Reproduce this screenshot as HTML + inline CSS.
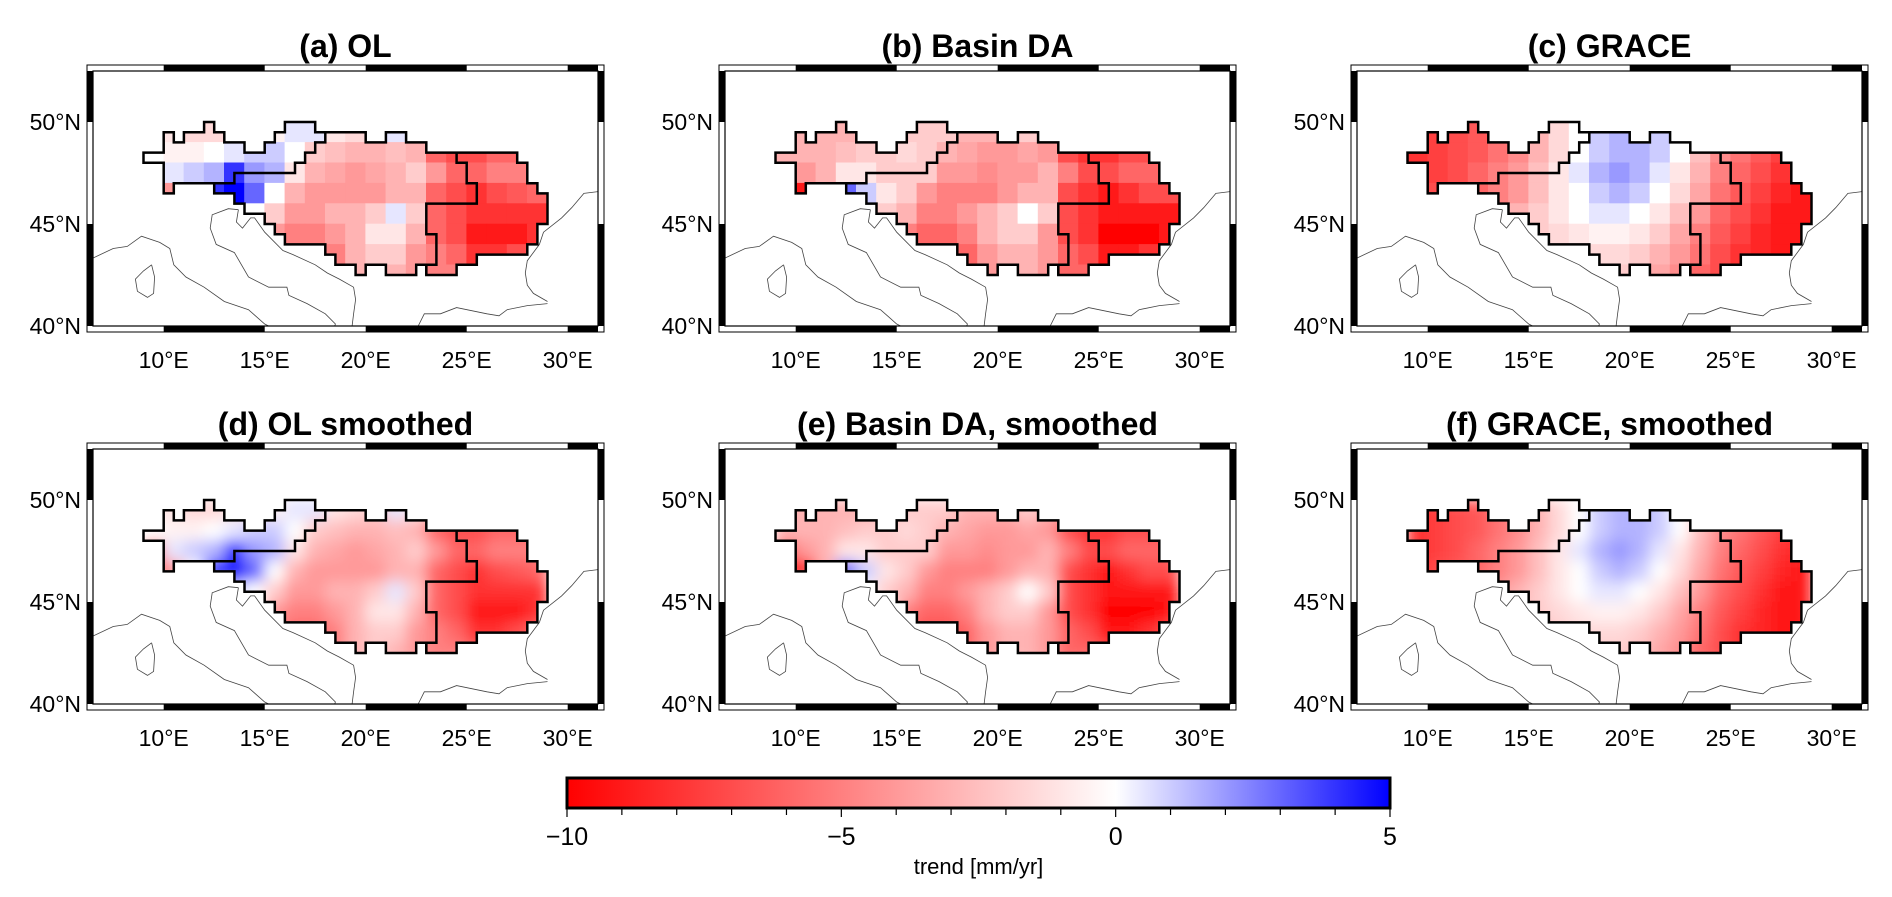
<!DOCTYPE html>
<html><head><meta charset="utf-8"><style>
body{margin:0;background:#fff}
svg{display:block;font-family:"Liberation Sans",Arial,sans-serif}
</style></head><body>
<svg id="fig" width="1892" height="897" viewBox="0 0 1892 897" xmlns="http://www.w3.org/2000/svg">
<defs>
<filter id="blur" x="-10%" y="-10%" width="120%" height="120%"><feGaussianBlur stdDeviation="7"/></filter>
<linearGradient id="cbgrad" x1="0" x2="1" y1="0" y2="0">
<stop offset="0" stop-color="#ff0000"/><stop offset="0.6667" stop-color="#ffffff"/><stop offset="1" stop-color="#0000ff"/>
</linearGradient>
</defs>
</svg>
<script>
// ----- data -----
const panelTitles = ["(a) OL","(b) Basin DA","(c) GRACE","(d) OL smoothed","(e) Basin DA, smoothed","(f) GRACE, smoothed"];
const gridLatTops = [50,49,48,47,46,45,44,43];
const gridLonLefts = [9,10,11,12,13,14,15,16,17,18,19,20,21,22,23,24,25,26,27,28];
const olGrid = [
[-1,-1,-1.5,-1.5,-1,-1,-0.5,0.5,0.5,-1,-1.5,-2,0.5,-1,-3,-4,-4,-5,-5,-5],
[0,-0.5,-0.5,0,0.5,1,1,0,-2,-2.5,-3,-3,-2.5,-3,-6,-7,-7,-6,-6,-6],
[-5,0.5,1,1.5,4,2,1.5,-1,-3,-3.5,-4,-3.5,-3,-2,-4,-6,-6,-5,-5,-5],
[-6,-4,0,4,5,3,0,-3,-4,-4,-4,-4,-3,-3,-6,-7,-8,-7,-6.5,-6],
[0,0,0,0,1,0,-2,-4,-4,-3,-3,-2,0.5,-2,-6,-7,-8,-8,-8,-8],
[0,0,0,0,0,0,-4,-5,-5,-4,-3,-1,-1,-3,-6,-7,-9,-9,-9,-8],
[0,0,0,0,0,0,-5,-6,-6,-5,-3,-2,-2,-4,-5,-6,-8,-8,-7,-6],
[0,0,0,0,0,0,-5,-6,-5,-5,-3,-2,-3,-4,-5,-5,-6,-6,-6,-6]
];
const daGrid = [
[-3,-3,-3,-3,-3,-2.5,-2,-2,-2,-3,-3,-3,-2,-3,-4,-5,-5,-6,-6,-6],
[-3,-3,-3,-2.5,-2,-2,-1.5,-2,-3,-3.5,-4,-4,-3.5,-4,-7,-8,-8,-7,-7,-7],
[-6,-4,-3,-1,-1,-2,-2,-2,-4,-4,-4.5,-4,-4,-3,-5,-7,-7,-6,-6,-6],
[-9,-9,-3,3,1,-1,-2,-4,-5,-5,-5,-4,-3,-3,-7,-8,-9,-8,-7,-7],
[0,0,0,0,0,-2,-3,-5,-5,-4,-3,-2,0,-2,-7,-8,-9,-9,-9,-9],
[0,0,0,0,0,0,-5,-6,-6,-5,-3,-2,-2,-4,-7,-8,-10,-10,-10,-9],
[0,0,0,0,0,0,-6,-7,-7,-6,-4,-3,-3,-4,-6,-7,-9,-9,-8,-7],
[0,0,0,0,0,0,-6,-7,-6,-6,-4,-3,-3,-4,-6,-6,-7,-7,-7,-7]
];
const graceGrid = [
[-8,-7.5,-7,-6.5,-5.5,-4.5,-3,-1.5,0,1,1.5,1.5,1,0,-2,-4,-5,-6,-7,-7.5],
[-8,-7.5,-7,-6.5,-5.5,-4.5,-3,-1.5,0,1,1.5,1.5,1,0,-2.5,-4.5,-5.5,-6.5,-7.5,-8],
[-8,-7.5,-7,-6,-5,-4,-2.5,-1,0.5,1.5,2,1.5,0.5,-1,-3,-5,-6,-7,-8,-8.5],
[-8,-7,-6.5,-6,-5,-4,-2.5,-1,0,1,1.5,1,0,-1.5,-3.5,-5.5,-6.5,-7.5,-8.5,-9],
[-7,-6,-5,-4.5,-4,-3,-2,-1,0,0.5,0.5,0,-1,-2.5,-4,-6,-7,-8,-9,-9],
[-6,-5,-4,-3.5,-3,-2.5,-2,-1.5,-1,-0.5,-0.5,-1,-2,-3.5,-5,-6.5,-7.5,-8.5,-9,-9],
[-5,-4,-3.5,-3,-3,-2.5,-2.5,-2,-1.5,-1.5,-1.5,-2,-3,-4,-5.5,-7,-8,-8.5,-9,-9],
[-5,-4,-3.5,-3,-3,-2.5,-2.5,-2,-2,-2,-2,-2.5,-3.5,-4.5,-6,-7,-8,-8.5,-9,-9]
];
const xTickLons = [10,15,20,25,30];
const xTickLabels = ["10°E","15°E","20°E","25°E","30°E"];
const yTickLats = [50,45,40];
const yTickLabels = ["50°N","45°N","40°N"];
const cbTicks = [-10,-9,-8,-7,-6,-5,-4,-3,-2,-1,0,1,2,3,4,5];
const cbLabelVals = [-10,-5,0,5];
const cbLabels = ["\u221210","\u22125","0","5"];
const basinOutline = [[9,48],[9,48.5],[10,48.5],[10,49.5],[10.5,49.5],[10.5,49],[11,49],[11,49.5],[12,49.5],[12,50],[12.5,50],[12.5,49.5],[13,49.5],[13,49],[14,49],[14,48.5],[15,48.5],[15,49],[15.5,49],[15.5,49.5],[16,49.5],[16,50],[17.5,50],[17.5,49.5],[20,49.5],[20,49],[21,49],[21,49.5],[22,49.5],[22,49],[23,49],[23,48.5],[27.5,48.5],[27.5,48],[28,48],[28,47],[28.5,47],[28.5,46.5],[29,46.5],[29,45],[28.5,45],[28.5,44],[28,44],[28,43.5],[25.5,43.5],[25.5,43],[24.5,43],[24.5,42.5],[23,42.5],[23,43],[22.5,43],[22.5,42.5],[21,42.5],[21,43],[20,43],[20,42.5],[19.5,42.5],[19.5,43],[18.5,43],[18.5,43.5],[18,43.5],[18,44],[16,44],[16,44.5],[15.5,44.5],[15.5,45],[15,45],[15,45.5],[14,45.5],[14,46],[13.5,46],[13.5,46.5],[12.5,46.5],[12.5,47],[10.5,47],[10.5,46.5],[10,46.5],[10,48]];
const dividerWest = [[12.5,47],[13.5,47],[13.5,47.5],[16.5,47.5],[16.5,48],[17,48],[17,48.5],[17.5,48.5],[17.5,49],[18,49],[18,49.5]];
const dividerEast = [[24.5,48.5],[24.5,48],[25,48],[25,47],[25.5,47],[25.5,46],[23,46],[23,44.5],[23.5,44.5],[23.5,43],[23,43],[23,42.5]];
const coasts = [
[[13.7,45.7],[13.2,45.75],[12.4,45.45],[12.3,44.8],[12.6,44.0],[13.5,43.6],[14.2,42.4],[15.2,41.9],[16.1,41.9],[16.2,41.5],[17.1,41.1],[18.0,40.6],[18.5,40.1],[18.4,39.8]],
[[6.0,43.1],[7.5,43.8],[8.2,43.9],[8.9,44.4],[9.8,44.1],[10.3,43.8],[10.5,43.0],[11.1,42.4],[12.0,41.9],[13.0,41.2],[14.2,40.8],[15.0,40.1],[15.6,39.8]],
[[9.4,43.0],[9.55,42.4],[9.5,41.6],[9.2,41.4],[8.7,41.7],[8.6,42.3],[9.0,42.7],[9.4,43.0]],
[[13.7,45.7],[13.6,45.1],[13.9,44.8],[14.3,45.3],[14.5,45.3],[15.0,44.6],[15.9,43.7],[16.4,43.5],[17.5,43.0],[18.1,42.6],[18.7,42.3],[19.4,41.9],[19.5,41.3],[19.4,40.6],[19.3,39.8]],
[[31.6,46.6],[30.8,46.5],[30.2,45.8],[29.7,45.3],[28.8,44.6],[28.6,44.0],[28.0,43.2],[27.9,42.6],[28.0,42.0],[28.3,41.6],[29.0,41.2]],
[[29.0,41.1],[28.0,41.0],[27.0,40.8],[26.6,40.5],[26.0,40.6],[24.5,40.9],[23.7,40.6],[22.9,40.6],[22.6,40.0]]
];
// ----- layout -----
const SX = 20.2, SY = 20.4, LON0 = 6.5, LON1 = 31.5, LAT0 = 40, LAT1 = 52.5;
const W = (LON1-LON0)*SX, H = (LAT1-LAT0)*SY;
const NS = "http://www.w3.org/2000/svg";
const svg = document.getElementById('fig');
function el(tag, attrs, parent){const e=document.createElementNS(NS,tag);for(const k in attrs)e.setAttribute(k,attrs[k]);(parent||svg).appendChild(e);return e;}
const px = lon => (lon-LON0)*SX;
const py = lat => (LAT1-lat)*SY;
function col(v){
  v=Math.max(-10,Math.min(5,v));
  let r,g,b;
  if(v<0){const t=-v/10;r=255;g=b=Math.round(255*(1-t));}
  else{const t=v/5;r=g=Math.round(255*(1-t));b=255;}
  return `rgb(${r},${g},${b})`;
}
const ptsStr = arr => arr.map(p=>px(p[0]).toFixed(1)+','+py(p[1]).toFixed(1)).join(' ');
const defs = svg.querySelector('defs');
const cpB = el('clipPath',{id:'basinclip'},defs);
el('polygon',{points:ptsStr(basinOutline)},cpB);
const cpF = el('clipPath',{id:'frameclip'},defs);
el('rect',{x:0,y:0,width:W,height:H},cpF);

const grids = [olGrid,daGrid,graceGrid,olGrid,daGrid,graceGrid];
const panelNames = ['panel-a-ol','panel-b-basin-da','panel-c-grace','panel-d-ol-smoothed','panel-e-basin-da-smoothed','panel-f-grace-smoothed'];
for(let i=0;i<6;i++){
  const c=i%3, r=Math.floor(i/3);
  const X0=93+632*c, Y0=71+378*r;
  const g=el('g',{transform:`translate(${X0},${Y0})`});
  
  
  const t=el('text',{x:W/2,y:-14,'text-anchor':'middle','font-size':32,'font-weight':'bold'},g);
  t.textContent=panelTitles[i];
  
  
  const B=6;
  el('rect',{x:-B,y:-B,width:W+2*B,height:H+2*B,fill:'#fff',stroke:'#000','stroke-width':1},g);
  const cg=el('g',{'clip-path':'url(#frameclip)',fill:'none',stroke:'#444','stroke-width':0.8},g);
  
  
  coasts.forEach(cl=>el('polyline',{points:ptsStr(cl)},cg));
  const clipG=el('g',{'clip-path':'url(#basinclip)'},g);
  const cells=el('g',r===1?{filter:'url(#blur)'}:{},clipG);
  
  
  const grid=grids[i];
  gridLatTops.forEach((lat,ri)=>gridLonLefts.forEach((lon,ci)=>{
    const rc=el('rect',{x:px(lon)-0.3,y:py(lat)-0.3,width:SX+0.6,height:SY+0.6,fill:col(grid[ri][ci])},cells);
    
    
  }));
  const bo=el('polygon',{points:ptsStr(basinOutline),fill:'none',stroke:'#000','stroke-width':2.5,'stroke-linejoin':'miter'},g);
  
  
  [dividerWest,dividerEast].forEach(d=>{
    const pl=el('polyline',{points:ptsStr(d),fill:'none',stroke:'#000','stroke-width':2.5},g);
    
    
  });
  const fr=el('g',{},g);
  
  
  const lonB=[6.5,10,15,20,25,30,31.5];
  for(let k=0;k<lonB.length-1;k++){ if(k%2===1){
    el('rect',{x:px(lonB[k]),y:-B,width:px(lonB[k+1])-px(lonB[k]),height:B,fill:'#000'},fr);
    el('rect',{x:px(lonB[k]),y:H,width:px(lonB[k+1])-px(lonB[k]),height:B,fill:'#000'},fr);
  }}
  const latB=[52.5,50,45,40];
  for(let k=0;k<latB.length-1;k++){ if(k%2===0){
    el('rect',{x:-B,y:py(latB[k]),width:B,height:py(latB[k+1])-py(latB[k]),fill:'#000'},fr);
    el('rect',{x:W,y:py(latB[k]),width:B,height:py(latB[k+1])-py(latB[k]),fill:'#000'},fr);
  }}
  el('rect',{x:0,y:0,width:W,height:H,fill:'none',stroke:'#000','stroke-width':1.2},fr);
  yTickLats.forEach((lat,k)=>{
    const tx=el('text',{x:-12,y:py(lat)+8,'text-anchor':'end','font-size':23},g);
    tx.textContent=yTickLabels[k];
    
    
  });
  xTickLons.forEach((lon,k)=>{
    const tx=el('text',{x:px(lon),y:H+42,'text-anchor':'middle','font-size':23},g);
    tx.textContent=xTickLabels[k];
    
    
  });
}
// colorbar
const CB={x0:567,x1:1390,y0:778,y1:808,vmin:-10,vmax:5};
const cbx=v=>CB.x0+(v-CB.vmin)/(CB.vmax-CB.vmin)*(CB.x1-CB.x0);
const cb=el('g',{});


el('rect',{x:CB.x0,y:CB.y0,width:CB.x1-CB.x0,height:CB.y1-CB.y0,fill:'url(#cbgrad)',stroke:'#000','stroke-width':3},cb);
cbTicks.forEach(v=>{
  const tk=el('line',{x1:cbx(v),x2:cbx(v),y1:CB.y1+1,y2:CB.y1+(cbLabelVals.includes(v)?9:7),stroke:'#000','stroke-width':1.2},cb);
  
  
});
cbLabelVals.forEach((v,k)=>{
  const tx=el('text',{x:cbx(v),y:CB.y1+37,'text-anchor':'middle','font-size':25},cb);
  tx.textContent=cbLabels[k];
  
  
});
const ct=el('text',{x:(CB.x0+CB.x1)/2,y:CB.y1+66,'text-anchor':'middle','font-size':22},cb);
ct.textContent='trend [mm/yr]';


</script>
</body></html>
